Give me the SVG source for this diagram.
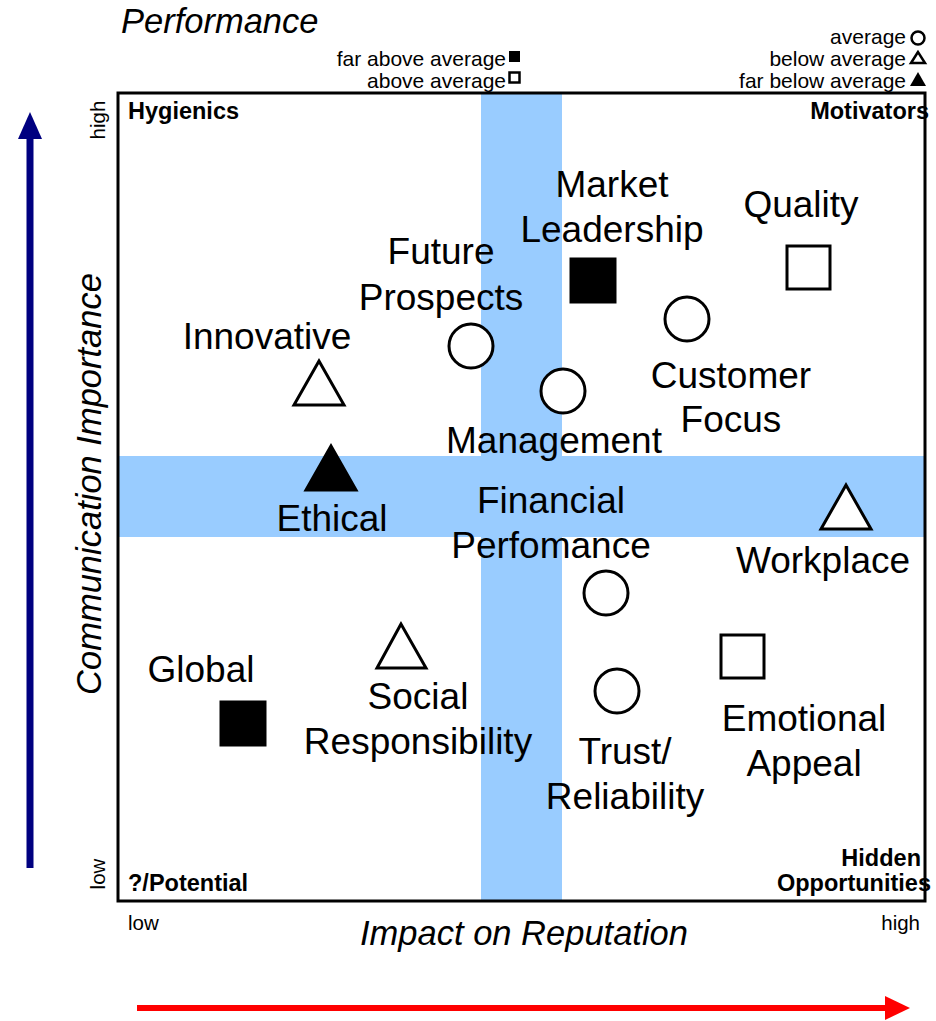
<svg xmlns="http://www.w3.org/2000/svg" width="936" height="1021" viewBox="0 0 936 1021">
<style>
.big{font-family:"Liberation Sans",Arial,sans-serif;font-size:37px;fill:#000;text-anchor:middle}
.ax{font-family:"Liberation Sans",Arial,sans-serif;font-size:34.5px;font-style:italic;fill:#000}
.sm{font-family:"Liberation Sans",Arial,sans-serif;font-size:20.5px;fill:#000}
.lg{font-family:"Liberation Sans",Arial,sans-serif;font-size:21px;fill:#000;text-anchor:end}
.cn{font-family:"Liberation Sans",Arial,sans-serif;font-size:23.5px;font-weight:bold;fill:#000}
.o{fill:#fff;stroke:#000;stroke-width:3}
.f{fill:#000;stroke:#000;stroke-width:3}
.lo{fill:#fff;stroke:#000;stroke-width:2.5}
.band{fill:#99ccff}
</style>
<rect width="936" height="1021" fill="#fff"/>
<g id="bands">
<rect class="band" x="481" y="93" width="81" height="808"/>
<rect class="band" x="118" y="456" width="807" height="81"/>
</g>
<g id="frame">
<rect x="118" y="93" width="807" height="808" fill="none" stroke="#000" stroke-width="3"/>
</g>
<g id="axes">
<text class="ax" x="121" y="33">Performance</text>
<text class="ax" x="524" y="945" text-anchor="middle">Impact on Reputation</text>
<text class="ax" transform="translate(101,484) rotate(-90)" text-anchor="middle">Communication Importance</text>
<text class="sm" transform="translate(105,120) rotate(-90)" text-anchor="middle">high</text>
<text class="sm" transform="translate(105,874) rotate(-90)" text-anchor="middle">low</text>
<text class="sm" x="128" y="930">low</text>
<text class="sm" x="920" y="930" text-anchor="end">high</text>
<path d="M30,868 V138" stroke="#000080" stroke-width="7" fill="none"/>
<polygon points="30,112 18,139 42,139" fill="#000080"/>
<path d="M137,1008 H886" stroke="#ff0000" stroke-width="6" fill="none"/>
<polygon points="910,1008 885,996 885,1020" fill="#ff0000"/>
</g>
<g id="corners">
<text class="cn" x="128" y="119">Hygienics</text>
<text class="cn" x="929" y="119" text-anchor="end">Motivators</text>
<text class="cn" x="128" y="891">?/Potential</text>
<text class="cn" x="921" y="866" text-anchor="end">Hidden</text>
<text class="cn" x="931" y="891" text-anchor="end">Opportunities</text>
</g>
<g id="legend">
<text class="lg" x="506" y="66">far above average</text>
<rect x="509" y="51" width="11" height="11" fill="#000"/>
<text class="lg" x="506" y="88">above average</text>
<rect class="lo" x="509.5" y="72.5" width="10" height="10"/>
<text class="lg" x="906" y="44">average</text>
<circle class="lo" cx="918" cy="38" r="6.5"/>
<text class="lg" x="906" y="66">below average</text>
<polygon class="lo" points="918,52 911,63 925,63"/>
<text class="lg" x="906" y="88">far below average</text>
<polygon points="918,72 910,86 926,86" fill="#000"/>
</g>
<g id="market-leadership">
<rect class="f" x="571" y="259" width="44" height="43"/>
<text class="big" x="612" y="197">Market</text>
<text class="big" x="612" y="242">Leadership</text>
</g>
<g id="quality">
<rect class="o" x="787" y="246" width="43" height="43"/>
<text class="big" x="801" y="217">Quality</text>
</g>
<g id="future-prospects">
<circle class="o" cx="471" cy="346" r="22"/>
<text class="big" x="441" y="264">Future</text>
<text class="big" x="441" y="310">Prospects</text>
</g>
<g id="innovative">
<polygon class="o" points="319,361 294,405 344,405"/>
<text class="big" x="267" y="349">Innovative</text>
</g>
<g id="customer-focus">
<circle class="o" cx="687" cy="319" r="22"/>
<text class="big" x="731" y="388">Customer</text>
<text class="big" x="731" y="432">Focus</text>
</g>
<g id="management">
<circle class="o" cx="563" cy="391" r="22"/>
<text class="big" x="554" y="453">Management</text>
</g>
<g id="ethical">
<polygon class="f" points="331,446 306,490 356,490"/>
<text class="big" x="332" y="531">Ethical</text>
</g>
<g id="financial-performance">
<circle class="o" cx="606" cy="593" r="22"/>
<text class="big" x="551" y="513">Financial</text>
<text class="big" x="551" y="558">Perfomance</text>
</g>
<g id="workplace">
<polygon class="o" points="846,485 821,529 871,529"/>
<text class="big" x="823" y="573">Workplace</text>
</g>
<g id="global">
<rect class="f" x="221" y="702" width="44" height="43"/>
<text class="big" x="201" y="682">Global</text>
</g>
<g id="social-responsibility">
<polygon class="o" points="401,624 377,668 426,668"/>
<text class="big" x="418" y="709">Social</text>
<text class="big" x="418" y="754">Responsibility</text>
</g>
<g id="emotional-appeal">
<rect class="o" x="721" y="635" width="43" height="43"/>
<text class="big" x="804" y="731">Emotional</text>
<text class="big" x="804" y="776">Appeal</text>
</g>
<g id="trust-reliability">
<circle class="o" cx="617" cy="691" r="22"/>
<text class="big" x="625" y="764">Trust/</text>
<text class="big" x="625" y="809">Reliability</text>
</g>
<g id="connectors"></g>
</svg>
